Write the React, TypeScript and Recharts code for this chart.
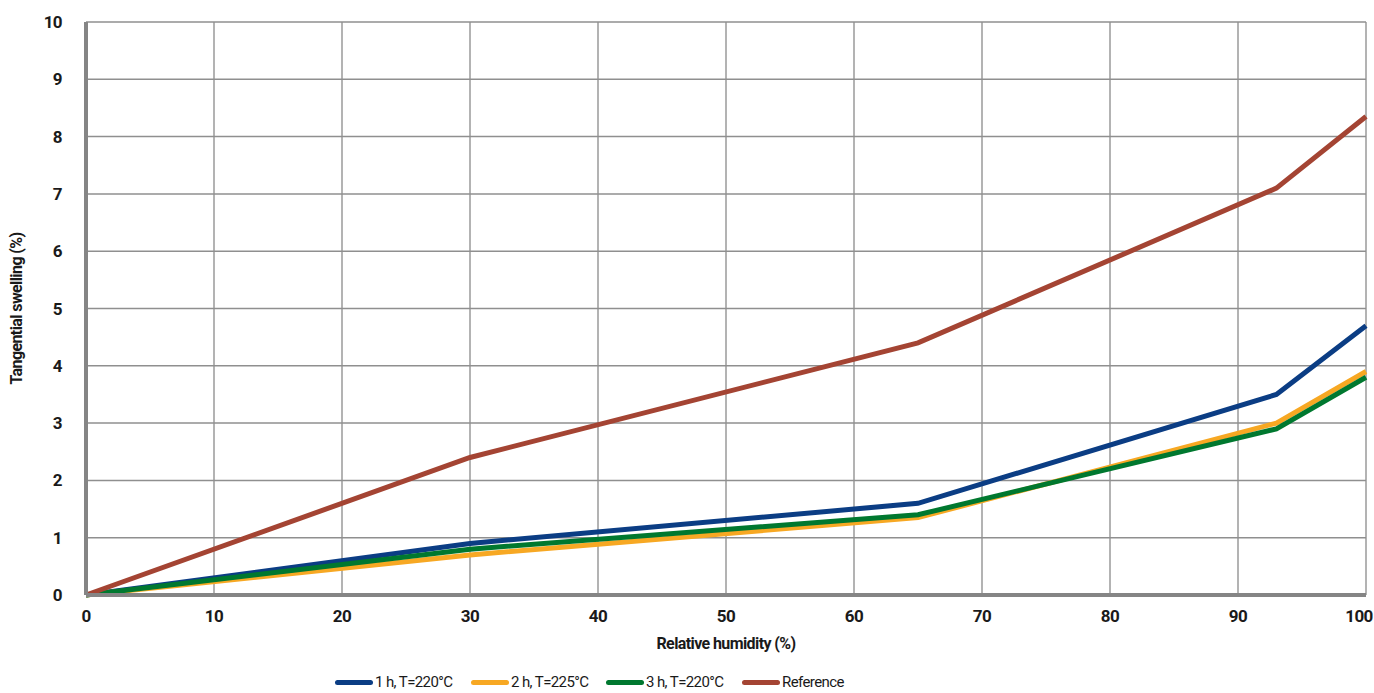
import { LineChart, Line, XAxis, YAxis, CartesianGrid, Legend, Label } from 'recharts'

const humidity = [0, 30, 65, 93, 100]
const oneHour = [0, 0.9, 1.6, 3.5, 4.7]
const twoHour = [0, 0.7, 1.35, 3.0, 3.9]
const threeHour = [0, 0.8, 1.4, 2.9, 3.8]
const reference = [0, 2.4, 4.4, 7.1, 8.35]

const xTicks = [0, 10, 20, 30, 40, 50, 60, 70, 80, 90, 100]
const yTicks = [0, 1, 2, 3, 4, 5, 6, 7, 8, 9, 10]

const series = [
  { key: 'h1', name: '1 h, T=220°C', color: '#0b3d84' },
  { key: 'h2', name: '2 h, T=225°C', color: '#f7a823' },
  { key: 'h3', name: '3 h, T=220°C', color: '#00782f' },
  { key: 'ref', name: 'Reference', color: '#a44433' },
]

const data = humidity.map((rh, i) => ({
  rh,
  h1: oneHour[i],
  h2: twoHour[i],
  h3: threeHour[i],
  ref: reference[i],
}))

const font = 'Roboto, "Liberation Sans", sans-serif'
const legendLeft = [335, 471, 606, 742]

function LegendContent() {
  return (
    <div style={{ position: 'relative', height: 30, fontFamily: font }}>
      {series.map((s, i) => (
        <div
          key={s.key}
          style={{
            position: 'absolute',
            left: legendLeft[i],
            top: 10,
            display: 'flex',
            alignItems: 'center',
            fontSize: 15,
            color: '#1a1a1a',
            letterSpacing: -0.6,
            whiteSpace: 'nowrap',
          }}
        >
          <span
            style={{
              display: 'inline-block',
              width: 38,
              height: 5,
              borderRadius: 3,
              background: s.color,
              marginRight: 2,
            }}
          />
          {s.name}
        </div>
      ))}
    </div>
  )
}

// x tick: the last label sits a little to the left so it stays on the page
function XTick(props: any) {
  const { x, y, payload } = props
  const shift = payload.value === 100 ? -7 : 0
  return (
    <text
      x={x + shift}
      y={y + 6}
      textAnchor="middle"
      dominantBaseline="hanging"
      style={{ fill: '#1a1a1a', fontSize: 17, fontWeight: 700, fontFamily: font, letterSpacing: -0.6 }}
    >
      {payload.value}
    </text>
  )
}

export default function App() {
  const tick = { fill: '#1a1a1a', fontSize: 17, fontWeight: 700, fontFamily: font, letterSpacing: -0.6 }
  return (
    <div style={{ width: 1374, height: 693, background: '#fff' }}>
      <style>{'body{margin:0}'}</style>
      <LineChart width={1374} height={693} data={data} margin={{ top: 22, right: 8, left: 0, bottom: 0 }}>
        <CartesianGrid horizontal={false} stroke="#b3b3b3" strokeWidth={2} />
        <CartesianGrid vertical={false} stroke="#8f8f8f" strokeWidth={1.5} />
        <XAxis
          dataKey="rh"
          type="number"
          domain={[0, 100]}
          ticks={xTicks}
          interval={0}
          height={68}
          tickLine={false}
          axisLine={{ stroke: '#858585', strokeWidth: 4 }}
          tick={<XTick />}
        >
          <Label
            value="Relative humidity (%)"
            position="insideTop"
            offset={43}
            style={{ fill: '#1a1a1a', fontSize: 16, fontWeight: 700, fontFamily: font, letterSpacing: -0.6 }}
          />
        </XAxis>
        <YAxis
          type="number"
          domain={[0, 10]}
          ticks={yTicks}
          interval={0}
          width={86}
          tickLine={false}
          axisLine={{ stroke: '#858585', strokeWidth: 4 }}
          tick={tick}
          tickMargin={18}
        >
          <Label
            value="Tangential swelling (%)"
            angle={-90}
            position="insideLeft"
            offset={16}
            style={{ textAnchor: 'middle', fill: '#1a1a1a', fontSize: 16, fontWeight: 700, fontFamily: font, letterSpacing: -0.6 }}
          />
        </YAxis>
        <Legend verticalAlign="bottom" height={30} content={<LegendContent />} />
        {series.map((s) => (
          <Line
            key={s.key}
            type="linear"
            dataKey={s.key}
            name={s.name}
            stroke={s.color}
            strokeWidth={5}
            dot={false}
            isAnimationActive={false}
          />
        ))}
      </LineChart>
    </div>
  )
}
